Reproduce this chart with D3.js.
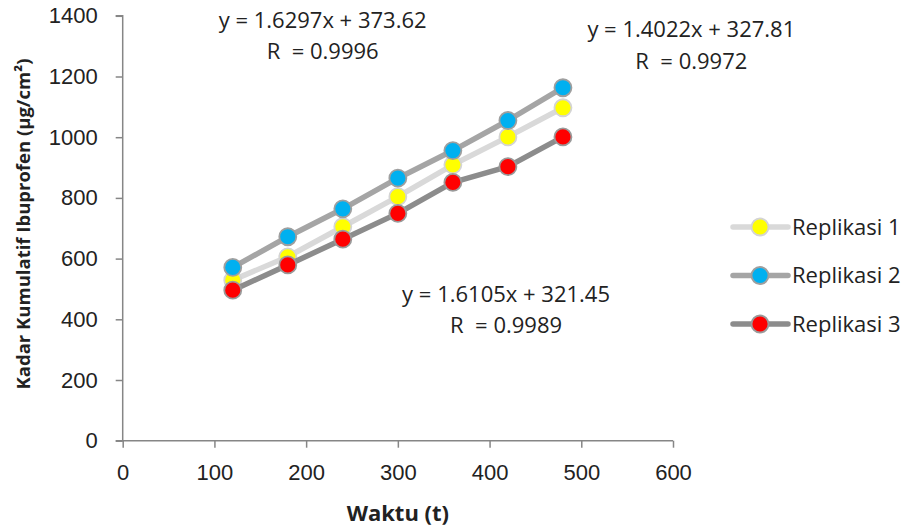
<!DOCTYPE html>
<html>
<head>
<meta charset="utf-8">
<script src="https://cdn.jsdelivr.net/npm/d3@7"></script>
<style>
  body { margin: 0; background: #fff; }
  svg { display: block; font-family: "Open Sans", sans-serif; }
  .tick text { font-size: 22px; fill: #222; }
</style>
</head>
<body>
<svg id="chart"></svg>
<script>
// waktu (t) sampling points
const waktu = [120, 180, 240, 300, 360, 420, 480];

// kadar kumulatif per replikasi
const replikasi1 = [529, 606, 705, 804, 909, 1001, 1097];
const replikasi2 = [571, 672, 764, 865, 956, 1055, 1163];
const replikasi3 = [496, 579, 664, 749, 851, 903, 1001];

const seriesNames = ["Replikasi 1", "Replikasi 2", "Replikasi 3"];
const xTicks = [0, 100, 200, 300, 400, 500, 600];
const yTicks = [0, 200, 400, 600, 800, 1000, 1200, 1400];

// trendline labels (R² shown as in the source, superscript lost)
const trendLabels = [
    {eq: "y = 1.6297x + 373.62", r: "R\u00a0\u00a0= 0.9996", t: 218, v: 1360},
    {eq: "y = 1.4022x + 327.81", r: "R\u00a0\u00a0= 0.9972", t: 620, v: 1330},
    {eq: "y = 1.6105x + 321.45", r: "R\u00a0\u00a0= 0.9989", t: 418, v: 458}
];

function drawChart() {
    let width = 911, height = 531;
    let svg = d3.select("#chart").attr("width", width).attr("height", height);

    let x = d3.scaleLinear().domain([0, 600]).range([122.7, 673]);
    let y = d3.scaleLinear().domain([0, 1400]).range([440.7, 15.8]);

    let lineColors = ["#d9d9d9", "#a5a5a5", "#8c8c8c"];
    let markerFill = ["#ffff00", "#00b0f0", "#ff0000"];
    let markerStroke = ["#d4d4d4", "#9f9f9f", "#9a9a9a"];
    let values = [replikasi1, replikasi2, replikasi3];

    // x axis
    let xAxis = svg.append("g")
        .attr("transform", "translate(0," + y(0) + ")")
        .call(d3.axisBottom(x).tickValues(xTicks).tickFormat(d3.format("d"))
            .tickSize(7).tickPadding(17));
    // y axis
    let yAxis = svg.append("g")
        .attr("transform", "translate(" + x(0) + ",0)")
        .call(d3.axisLeft(y).tickValues(yTicks).tickFormat(d3.format("d"))
            .tickSize(7).tickPadding(18));
    [xAxis, yAxis].forEach(function (a) {
        a.select(".domain").attr("stroke", "#868686").attr("stroke-width", 1.5);
        a.selectAll(".tick line").attr("stroke", "#868686").attr("stroke-width", 1.5);
    });
    yAxis.select(".domain").attr("d", "M-7," + y(0) + "H0V" + y(1400) + "H-7");
    xAxis.select(".domain").attr("d", "M" + x(0) + ",0H" + x(600));

    // axis titles
    svg.append("text")
        .attr("x", x(300)).attr("y", 521)
        .attr("text-anchor", "middle")
        .style("font-weight", "bold").style("font-size", "22px").style("fill", "#222")
        .text("Waktu (t)");
    svg.append("text")
        .attr("transform", "translate(30," + 224 + ") rotate(-90)")
        .attr("text-anchor", "middle")
        .style("font-weight", "bold").style("font-size", "18.5px").style("fill", "#222")
        .text("Kadar Kumulatif Ibuprofen (µg/cm²)");

    let line = d3.line()
        .x(function (d, i) { return x(waktu[i]); })
        .y(function (d) { return y(d); });

    values.forEach(function (vals, s) {
        let g = svg.append("g").attr("class", "series");
        g.append("path")
            .datum(vals)
            .attr("d", line)
            .attr("fill", "none")
            .attr("stroke", lineColors[s])
            .attr("stroke-width", 5.5)
            .attr("stroke-linejoin", "round");
        g.selectAll("circle").data(vals).enter()
            .append("circle")
            .attr("cx", function (d, i) { return x(waktu[i]); })
            .attr("cy", function (d) { return y(d); })
            .attr("r", 8.5)
            .attr("fill", markerFill[s])
            .attr("stroke", markerStroke[s])
            .attr("stroke-width", 1.8);
    });

    // trendline equations
    trendLabels.forEach(function (d) {
        svg.append("text")
            .attr("x", x(d.t)).attr("y", y(d.v))
            .attr("text-anchor", "middle")
            .style("font-size", "22px").style("fill", "#222")
            .text(d.eq);
        svg.append("text")
            .attr("x", x(d.t)).attr("y", y(d.v) + 31.5)
            .attr("text-anchor", "middle")
            .style("font-size", "22px").style("fill", "#222")
            .text(d.r);
    });

    // legend
    let legend = svg.selectAll(".legend")
        .data(seriesNames).enter()
        .append("g")
        .attr("class", "legend")
        .attr("transform", function (d, i) { return "translate(733," + (227 + 48.5 * i) + ")"; });
    legend.append("line")
        .attr("x1", 0).attr("x2", 55)
        .attr("stroke", function (d, i) { return lineColors[i]; })
        .attr("stroke-width", 5.5)
        .attr("stroke-linecap", "round");
    legend.append("circle")
        .attr("cx", 27).attr("r", 8.5)
        .attr("fill", function (d, i) { return markerFill[i]; })
        .attr("stroke", function (d, i) { return markerStroke[i]; })
        .attr("stroke-width", 1.8);
    legend.append("text")
        .attr("x", 59).attr("dy", "0.36em")
        .style("font-size", "22px").style("fill", "#222")
        .text(function (d) { return d; });
}

drawChart();
</script>
</body>
</html>
